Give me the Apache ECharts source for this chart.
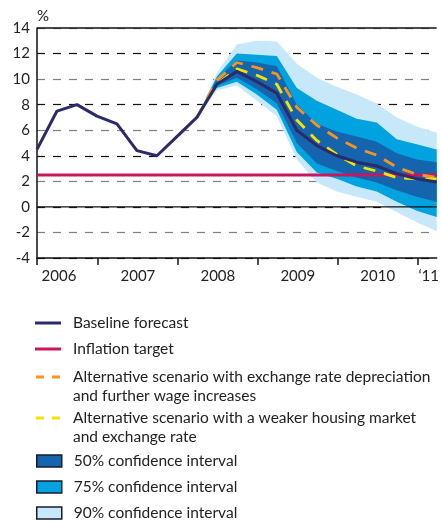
<!DOCTYPE html>
<html>
<head>
<meta charset="utf-8">
<script src="https://cdn.jsdelivr.net/npm/echarts@6/dist/echarts.min.js"></script>
<style>
  html, body { margin: 0; padding: 0; background: #fff; }
  #chart { width: 442px; height: 522px; }
</style>
</head>
<body>
<div id="chart"></div>
<script>
// quarterly points, 2006Q1 .. 2011Q1 (x = index in this list)
var quarters = ['2006Q1','2006Q2','2006Q3','2006Q4','2007Q1','2007Q2','2007Q3','2007Q4',
                '2008Q1','2008Q2','2008Q3','2008Q4','2009Q1','2009Q2','2009Q3','2009Q4',
                '2010Q1','2010Q2','2010Q3','2010Q4','2011Q1'];
var baseline = [4.5, 7.5, 8.0, 7.1, 6.5, 4.4, 4.0, 5.5, 7.0, 9.6, 10.6, 9.8, 8.9,
                6.0, 4.8, 4.0, 3.5, 3.2, 2.6, 2.2, 1.95];
var inflationTarget = 2.5;

// forecast part starts at 2008Q1
var fanStart = 8;
var scenarioDepreciation = [7.0, 9.9, 11.3, 10.9, 10.4, 7.8, 6.4, 5.4, 4.6, 4.05, 3.1, 2.55, 2.3];
var scenarioHousing      = [7.0, 9.6, 10.8, 10.3, 9.6, 6.8, 5.2, 4.1, 3.2, 2.8, 2.3, 2.2, 2.2];
var ci90Upper = [7.0, 10.5, 12.7, 13.0, 12.95, 11.2, 10.1, 9.4, 8.8, 8.1, 7.0, 6.3, 5.8];
var ci75Upper = [7.0, 10.2, 12.0, 11.9, 11.8, 9.3, 8.3, 7.6, 6.9, 6.6, 5.3, 4.9, 4.5];
var ci50Upper = [7.0, 10.0, 11.45, 11.3, 11.0, 8.0, 6.5, 5.9, 5.5, 5.1, 4.2, 3.7, 3.5];
var ci50Lower = [7.0, 9.5, 10.1, 9.2, 8.1, 5.0, 3.4, 2.8, 2.3, 1.9, 1.3, 0.8, 0.4];
var ci75Lower = [7.0, 9.3, 9.8, 8.8, 7.6, 4.3, 2.7, 2.2, 1.6, 1.2, 0.4, -0.3, -0.8];
var ci90Lower = [7.0, 9.1, 9.5, 8.3, 7.1, 3.7, 1.9, 1.2, 0.8, 0.4, -0.4, -1.2, -1.9];

// x axis: year boundaries and year labels
var yearTicks = [0, 3.05, 7.05, 11.05, 15.05, 19.05];
var yearLabelPos = [1.1, 5.05, 9.05, 13.05, 17.05, 19.6];
var yearLabels = ['2006', '2007', '2008', '2009', '2010', '\u201811'];

var legendText = {
    'Baseline': 'Baseline forecast',
    'Target': 'Inflation target',
    'Depreciation': 'Alternative scenario with exchange rate depreciation',
    'Housing': 'Alternative scenario with a weaker housing market',
    'CI50': '50% confidence interval',
    'CI75': '75% confidence interval',
    'CI90': '90% confidence interval'
};
var legendWrap = {
    'Depreciation': 'and further wage increases',
    'Housing': 'and exchange rate'
};

var FONT = 'Lato';
var TEXT = '#222';
var NAVY = '#2b2a6b', MAGENTA = '#c8175f', ORANGE = '#f7941d', YELLOW = '#f5e400';
var C90 = '#c7e8f8', C75 = '#00a3e0', C50 = '#1464ae';
var DASH_ICON = 'path://M0,0h8v3h-8zM16,0h8v3h-8z';

function pairs(arr, start) {
    return arr.map(function (v, i) { return [start + i, v]; });
}

function band(name, lower, upper, color) {
    return {
        name: name,
        type: 'custom',
        z: 2,
        silent: true,
        itemStyle: { color: color },
        encode: { x: 0, y: 1 },
        data: [[fanStart, lower[0]]],
        renderItem: function (params, api) {
            var pts = [];
            for (var i = 0; i < upper.length; i++) pts.push(api.coord([fanStart + i, upper[i]]));
            for (var j = lower.length - 1; j >= 0; j--) pts.push(api.coord([fanStart + j, lower[j]]));
            return { type: 'polygon', shape: { points: pts }, style: { fill: color } };
        }
    };
}

// one legend per row so the rows can be spaced like the original
function legendAt(name, y, left, w, h, item) {
    item.name = name;
    return {
        left: left,
        top: y - 9.5,
        padding: 0,
        itemWidth: w,
        itemHeight: h,
        selectedMode: false,
        data: [item],
        formatter: function (n) { return legendText[n]; },
        textStyle: {
            fontFamily: FONT, fontSize: 15.5, color: TEXT, lineHeight: 19,
            padding: [0, 0, 0, 73 - left - w - 5]
        }
    };
}

function boxItem(color) {
    return { icon: 'rect', itemStyle: { color: color, borderColor: '#1a1a2e', borderWidth: 1.5 } };
}

function wrapText(name, y) {
    return {
        type: 'text', left: 73, top: y - 9.5,
        style: { text: legendWrap[name], font: '15.5px ' + FONT, fill: TEXT, lineHeight: 19 }
    };
}

var chart = echarts.init(document.getElementById('chart'));

var option = {
    animation: false,
    grid: { left: 37, right: 1, top: 28, bottom: 264 },
    xAxis: {
        type: 'value', min: 0, max: quarters.length - 1,
        axisLine: { show: true, onZero: false, lineStyle: { color: '#111', width: 1.5 } },
        axisTick: { show: true, customValues: yearTicks, length: 7, lineStyle: { color: '#111', width: 1.5 } },
        axisLabel: {
            customValues: yearLabelPos, margin: 11,
            fontFamily: FONT, fontSize: 15, color: TEXT,
            formatter: function (v) { return yearLabels[yearLabelPos.indexOf(v)]; }
        },
        splitLine: { show: false }
    },
    yAxis: {
        type: 'value', min: -4, max: 14, interval: 2,
        name: '%', nameLocation: 'end', nameGap: 4,
        nameTextStyle: { align: 'left', fontFamily: FONT, fontSize: 15, color: TEXT },
        axisLine: { show: true, onZero: false, lineStyle: { color: '#111', width: 1.5 } },
        axisTick: { show: false },
        axisLabel: { margin: 7, fontFamily: FONT, fontSize: 15, color: TEXT },
        splitLine: { show: true, lineStyle: { color: ['#111', '#808080'], type: [8, 8], width: 1.2 } }
    },
    legend: [
        legendAt('Baseline', 323, 35, 26, 3, { icon: 'rect' }),
        legendAt('Target', 349, 35, 26, 3, { icon: 'rect' }),
        legendAt('Depreciation', 377, 36, 24, 3, { icon: DASH_ICON }),
        legendAt('Housing', 418, 36, 24, 3, { icon: DASH_ICON }),
        legendAt('CI50', 461, 36, 25, 12, boxItem(C50)),
        legendAt('CI75', 487, 36, 25, 12, boxItem(C75)),
        legendAt('CI90', 513, 36, 25, 12, boxItem(C90))
    ],
    graphic: [
        wrapText('Depreciation', 396),
        wrapText('Housing', 437)
    ],
    series: [
        band('CI90', ci90Lower, ci90Upper, C90),
        band('CI75', ci75Lower, ci75Upper, C75),
        band('CI50', ci50Lower, ci50Upper, C50),
        {
            name: 'zero', type: 'line', z: 3, silent: true, clip: false, symbol: 'none',
            data: [[0, 0], [quarters.length - 1, 0]],
            lineStyle: { color: '#111', width: 1.3 }
        },
        {
            name: 'top', type: 'line', z: 3, silent: true, clip: false, symbol: 'none',
            data: [[0, 14], [quarters.length - 1, 14]],
            lineStyle: { color: '#111', width: 1.3 }
        },
        {
            name: 'Target', type: 'line', z: 4, symbol: 'none',
            data: [[0, inflationTarget], [quarters.length - 1, inflationTarget]],
            itemStyle: { color: MAGENTA },
            lineStyle: { color: MAGENTA, width: 3 }
        },
        {
            name: 'Depreciation', type: 'line', z: 5, symbol: 'none',
            data: pairs(scenarioDepreciation, fanStart),
            itemStyle: { color: ORANGE },
            lineStyle: { color: ORANGE, width: 2.8, type: [12, 9] }
        },
        {
            name: 'Housing', type: 'line', z: 5, symbol: 'none',
            data: pairs(scenarioHousing, fanStart),
            itemStyle: { color: YELLOW },
            lineStyle: { color: YELLOW, width: 2.8, type: [12, 9] }
        },
        {
            name: 'Baseline', type: 'line', z: 6, symbol: 'none',
            data: pairs(baseline, 0),
            itemStyle: { color: NAVY },
            lineStyle: { color: NAVY, width: 3, join: 'round' }
        }
    ]
};

chart.setOption(option);
</script>
</body>
</html>
